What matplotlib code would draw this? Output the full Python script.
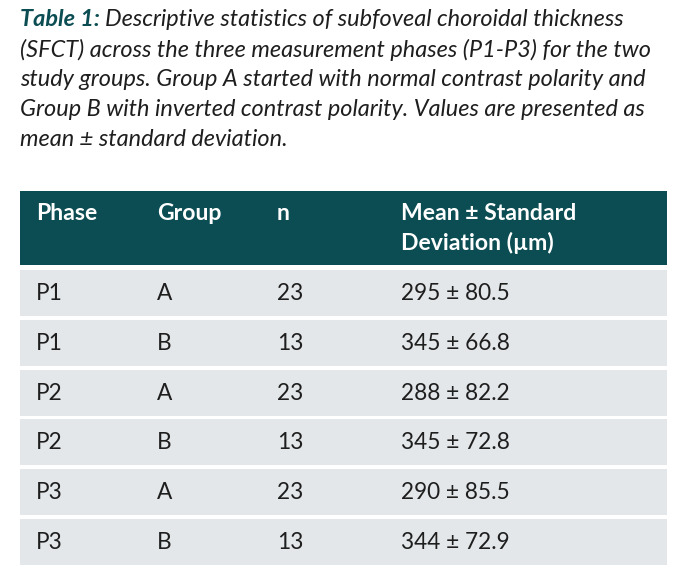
import matplotlib
matplotlib.use("Agg")
import matplotlib.pyplot as plt
from matplotlib.patches import Rectangle

plt.rcParams['font.family'] = ['Lato', 'DejaVu Sans']

# table data
headers = ['Phase', 'Group', 'n', 'Mean ± Standard\nDeviation (µm)']
phases = ['P1', 'P1', 'P2', 'P2', 'P3', 'P3']
groups = ['A', 'B', 'A', 'B', 'A', 'B']
n_vals = [23, 13, 23, 13, 23, 13]
means = [295, 345, 288, 345, 290, 344]
sds = [80.5, 66.8, 82.2, 72.8, 85.5, 72.9]

caption_lines = [
    'Descriptive statistics of subfoveal choroidal thickness',
    '(SFCT) across the three measurement phases (P1-P3) for the two',
    'study groups. Group A started with normal contrast polarity and',
    'Group B with inverted contrast polarity. Values are presented as',
    'mean ± standard deviation.',
]

teal = '#0b4d53'
row_bg = '#e3e7e9'
txt = '#1e1e1e'

W, H = 692, 584
fig = plt.figure(figsize=(W / 100, H / 100), dpi=100)
ax = fig.add_axes([0, 0, 1, 1])
ax.set_xlim(0, W)
ax.set_ylim(H, 0)
ax.axis('off')

cap_fs = 16.9
# caption
lab = ax.text(20, 20, 'Table 1: ', color=teal, fontsize=cap_fs, style='italic',
              fontweight='bold', va='center', ha='left')
fig.canvas.draw()
bb = lab.get_window_extent()
ax.text(bb.x1, H - 20, caption_lines[0], transform=None, color=txt,
        fontsize=cap_fs, style='italic', va='center', ha='left')
for i, line in enumerate(caption_lines[1:], start=1):
    ax.text(20, 20 + i * 29.8, line, color=txt, fontsize=cap_fs,
            style='italic', va='center', ha='left')

# table
left, right = 20, 667
col_x = [36, 157, 277, 401]
head_top, head_bot = 191, 265
ax.add_patch(Rectangle((left, head_top), right - left, head_bot - head_top,
                       color=teal, lw=0))
for x, h in zip(col_x, headers):
    for j, part in enumerate(h.split('\n')):
        ax.text(x, 213 + j * 30, part, color='white', fontsize=16.6,
                fontweight='bold', va='center', ha='left')

row_top0, pitch, row_h = 270, 49.8, 46
for i in range(len(phases)):
    top = row_top0 + i * pitch
    ax.add_patch(Rectangle((left, top), right - left, row_h, color=row_bg, lw=0))
    cy = top + row_h / 2 + 0.5
    vals = [phases[i], groups[i], str(n_vals[i]), f'{means[i]} ± {sds[i]}']
    for x, v in zip(col_x, vals):
        ax.text(x, cy, v, color=txt, fontsize=16.3, va='center', ha='left')

fig.savefig('out.png', dpi=100, facecolor='white')
